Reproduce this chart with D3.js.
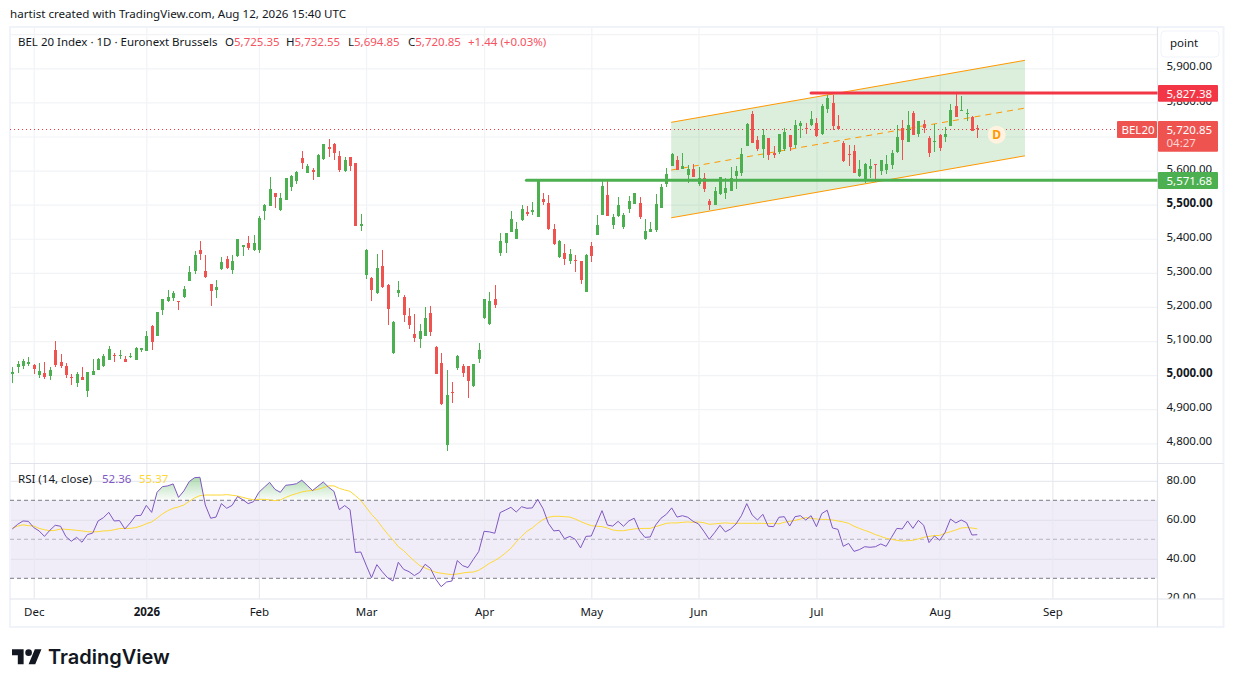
<!DOCTYPE html>
<html>
<head>
<meta charset="utf-8">
<script src="https://cdn.jsdelivr.net/npm/d3@7"></script>
<style>
  html, body { margin: 0; padding: 0; background: #fff; }
  svg { display: block; }
  text { font-family: "Noto Sans", sans-serif; font-size: 11.5px; fill: #131722; }
</style>
</head>
<body>
<div id="chart"></div>
<script>
const opens = [5004,5024,5027,5033,5030,5000,5007,4998,5074,5039,
  5027,4995,4978,4995,4954,5001,5016,5027,5045,5060,
  5057,5048,5054,5045,5074,5071,5145,5115,5192,5218,
  5227,5218,5230,5277,5306,5368,5306,5268,5250,5312,
  5341,5309,5350,5376,5388,5368,5368,5482,5496,5535,
  5485,5514,5552,5570,5637,5593,5602,5582,5634,5670,
  5678,5643,5599,5640,5623,5438,5294,5285,5241,5320,
  5265,5065,5241,5230,5174,5121,5106,5115,5183,5083,
  5036,4795,4951,5021,5027,5027,4968,5048,5168,5150,
  5224,5359,5388,5420,5400,5455,5479,5479,5464,5517,
  5505,5429,5347,5359,5335,5338,5335,5244,5379,5411,
  5470,5529,5441,5467,5435,5488,5502,5505,5400,5420,
  5426,5490,5561,5614,5631,5605,5587,5605,5561,5579,
  5511,5499,5532,5535,5540,5584,5593,5673,5766,5690,
  5664,5696,5652,5655,5664,5705,5676,5731,5725,5734,
  5740,5708,5781,5799,5731,5681,5649,5658,5585,5570,
  5605,5620,5599,5602,5617,5655,5725,5684,5769,5708,
  5737,5696,5684,5705,5699,5731,5790,5775,5766,5758,5725.35];
const highs = [5024,5042,5048,5054,5033,5036,5039,5024,5101,5062,
  5036,5004,5010,5024,5010,5048,5051,5062,5086,5065,
  5074,5057,5065,5083,5080,5130,5148,5186,5224,5250,
  5247,5218,5262,5321,5365,5394,5353,5268,5280,5347,
  5350,5353,5400,5382,5409,5412,5468,5501,5582,5535,
  5535,5579,5587,5599,5658,5620,5608,5649,5678,5693,
  5681,5658,5640,5640,5623,5473,5370,5288,5356,5367,
  5268,5159,5276,5235,5197,5180,5150,5200,5203,5086,
  5065,5015,4980,5059,5033,5027,5033,5095,5224,5244,
  5265,5417,5417,5482,5450,5499,5497,5508,5575,5535,
  5529,5444,5397,5385,5370,5353,5335,5356,5391,5470,
  5573,5576,5473,5523,5476,5526,5535,5523,5458,5450,
  5532,5561,5608,5652,5643,5652,5617,5620,5611,5593,
  5517,5552,5582,5579,5611,5614,5667,5740,5775,5702,
  5722,5696,5673,5708,5725,5705,5749,5746,5740,5775,
  5755,5795,5822,5822,5764,5687,5676,5676,5632,5623,
  5634,5620,5632,5646,5661,5734,5749,5775,5775,5746,
  5749,5702,5737,5708,5728,5796,5827.38,5819,5781,5761,5732.55];
const lows = [4978,5005,5019,5028,5002,4993,4990,4987,5024,5021,
  4993,4971,4964,4986,4937,5001,5016,5024,5045,5039,
  5048,5039,5051,5045,5068,5071,5074,5115,5177,5215,
  5218,5192,5227,5277,5297,5338,5285,5203,5227,5309,
  5312,5297,5347,5350,5368,5365,5359,5455,5496,5490,
  5482,5514,5540,5561,5605,5593,5573,5582,5631,5640,
  5631,5596,5596,5599,5438,5423,5282,5218,5238,5256,
  5147,5062,5230,5156,5136,5098,5080,5115,5115,5004,
  4913,4778,4919,5015,4995,4933,4965,5036,5165,5147,
  5197,5350,5359,5420,5400,5452,5467,5470,5464,5499,
  5426,5382,5344,5323,5326,5303,5268,5244,5332,5411,
  5470,5467,5429,5464,5429,5476,5502,5458,5397,5420,
  5420,5490,5552,5614,5602,5605,5564,5582,5555,5538,
  5485,5499,5529,5517,5540,5546,5584,5673,5681,5658,
  5637,5632,5637,5649,5658,5658,5667,5696,5708,5731,
  5699,5705,5769,5720,5720,5626,5614,5593,5582,5563,
  5579,5567,5588,5590,5605,5652,5632,5684,5705,5699,
  5711,5640,5655,5658,5684,5731,5758,5775,5746,5716,5694.85];
const closes = [5010,5033,5042,5039,5018,5013,4995,5016,5030,5027,
  5001,4992,5004,4986,5010,5013,5048,5057,5077,5057,
  5060,5039,5057,5080,5080,5115,5098,5186,5224,5230,
  5241,5215,5253,5303,5353,5356,5288,5247,5259,5332,
  5315,5335,5400,5382,5373,5388,5462,5499,5546,5523,
  5520,5579,5584,5596,5623,5614,5596,5646,5678,5664,
  5652,5602,5631,5614,5438,5444,5367,5250,5315,5259,
  5194,5156,5250,5177,5147,5109,5130,5168,5127,5004,
  4916,4942,4948,5056,5007,4983,5033,5074,5224,5218,
  5206,5394,5417,5458,5429,5488,5473,5485,5571,5508,
  5429,5385,5394,5341,5356,5335,5279,5353,5350,5441,
  5555,5467,5464,5499,5470,5511,5535,5464,5423,5429,
  5502,5552,5590,5649,5602,5614,5605,5582,5579,5546,
  5499,5540,5582,5549,5579,5599,5649,5737,5681,5664,
  5705,5646,5646,5708,5714,5670,5734,5740,5722,5752,
  5702,5790,5813,5731,5722,5629,5646,5593,5605,5620,
  5614,5617,5632,5620,5652,5699,5690,5734,5705,5746,
  5725,5652,5687,5667,5708,5778,5758,5778,5769,5717,5720.85];

const rsi = [55.3,57.7,59.4,59.2,56.0,54.3,51.5,54.6,57.2,56.7,
  51.4,49.0,51.0,48.5,52.4,53.2,59.4,61.1,63.8,59.4,
  59.6,55.3,58.4,62.1,62.3,67.4,63.8,74.1,77.0,77.4,
  78.4,71.5,74.8,79.6,81.6,81.8,67.6,60.8,61.4,68.3,
  65.9,67.4,71.9,70.3,68.3,69.3,74.1,76.7,79.2,75.6,
  74.1,77.7,78.0,78.5,80.3,77.7,75.0,77.2,79.4,76.7,
  74.6,65.2,67.3,65.2,43.2,43.5,36.8,30.3,37.0,33.4,
  30.3,28.6,38.2,34.6,33.4,31.4,33.1,37.2,35.1,29.5,
  25.7,28.1,28.6,39.1,36.5,35.5,39.7,43.7,54.1,53.8,
  53.1,63.7,65.0,66.4,64.0,66.7,65.9,66.1,70.5,65.7,
  58.2,54.3,54.6,50.3,51.5,50.0,45.6,51.5,51.7,58.2,
  64.7,57.3,56.8,59.2,56.7,59.4,60.8,54.4,51.0,51.2,
  57.3,60.8,62.8,66.1,61.4,62.1,61.3,59.2,57.9,54.1,
  50.0,53.4,57.2,53.8,55.3,57.9,62.1,68.3,62.5,59.9,
  62.8,56.7,56.5,61.3,61.6,56.8,61.6,62.1,59.9,62.1,
  56.5,63.2,64.9,55.8,55.1,46.4,47.9,43.8,44.7,46.2,
  45.9,46.2,47.6,46.4,51.0,55.6,55.3,59.4,55.6,59.7,
  57.2,48.3,51.7,49.5,53.6,60.4,58.4,59.9,58.5,52.2,52.36];
const rsiMa = [55.6,56.8,57.4,57.0,56.8,55.6,54.9,54.4,54.6,55.3,
  55.1,54.9,54.6,54.3,53.9,53.8,53.9,54.3,54.4,54.9,
  55.5,55.6,55.6,56.0,56.8,58.0,58.9,60.9,63.0,64.7,
  65.9,66.6,67.6,69.5,71.2,72.4,72.7,72.7,72.7,72.7,
  72.9,72.6,72.2,71.5,70.8,70.3,70.5,70.5,70.2,69.8,
  70.2,71.5,72.6,73.4,74.3,74.8,75.1,75.6,76.5,77.4,
  77.4,76.1,75.3,74.6,72.4,70.0,66.4,62.8,59.9,56.2,
  52.7,49.7,46.2,44.2,41.4,38.9,36.5,35.3,34.1,33.1,
  32.6,32.2,31.9,32.2,32.7,33.1,33.2,34.1,35.8,37.7,
  39.1,40.8,43.0,45.4,48.6,51.5,54.1,55.8,58.2,60.1,
  61.3,61.8,61.8,61.6,61.4,60.4,59.1,58.0,57.0,56.7,
  56.5,55.8,54.8,54.4,54.4,54.9,55.3,55.5,55.6,55.6,
  56.5,57.3,58.2,58.4,58.4,58.7,58.9,58.7,58.9,58.5,
  57.7,57.9,58.2,58.4,58.2,58.2,58.2,58.2,58.2,58.2,
  58.2,58.0,58.2,57.9,58.7,59.2,59.7,60.4,61.1,60.8,
  60.4,60.2,60.2,59.9,59.4,58.9,58.2,56.7,55.6,54.6,
  53.6,52.4,51.5,50.5,50.0,49.5,49.1,49.3,49.5,50.2,
  51.0,51.5,51.9,52.0,53.1,53.9,54.8,55.8,56.0,55.8,55.37];

const priceTicks = [4800,4900,5000,5100,5200,5300,5400,5500,5600,5700,5800,5900,6000];
const priceLabelTicks = [4800,4900,5000,5100,5200,5300,5400,5500,5600,5800,5900];
const boldPrices = [5000,5500];
const rsiTicks = [20,40,60,80];
const monthBars = [4,25,46,66,88,108,128,150,173,194];
const monthLabels = ["Dec","2026","Feb","Mar","Apr","May","Jun","Jul","Aug","Sep"];

const resistance = 5827.38;
const support = 5571.68;
const resistanceStart = 149;
const supportStart = 95.9;
const channelBars = [122.9,188.9];
const channelTop = [5741.5,5923.4];
const channelBottom = [5461.4,5643.3];

const green = "#4caf50";
const red = "#ef5350";
const lineRed = "#f23645";
const orange = "#ff9800";
const gridColor = "#f2f3f6";
const sepColor = "#e0e3eb";
const baseFont = "'Noto Sans', sans-serif";

const width = 1233;
const height = 687;
const paneLeft = 10;
const paneRight = 1157.5;
const mainTop = 27;
const mainBottom = 463.5;
const rsiBottom = 598.5;
const axisBottomY = 627;
const frameRight = 1223.5;

const svg = d3.select("#chart").append("svg")
    .attr("width", width)
    .attr("height", height)
    .attr("viewBox", [0, 0, width, height]);

const x = d3.scaleLinear([0, 180], [12.3, 12.3 + 180 * 5.361]);
const y = d3.scaleLinear([4800, 5900], [443.3, 68.3]);
const yRsi = d3.scaleLinear([30, 70], [578.3, 500.3]);

const defs = svg.append("defs");
defs.append("clipPath").attr("id", "mainClip").append("rect")
    .attr("x", paneLeft).attr("y", mainTop).attr("width", paneRight - paneLeft).attr("height", mainBottom - mainTop);
defs.append("clipPath").attr("id", "rsiClip").append("rect")
    .attr("x", paneLeft).attr("y", mainBottom).attr("width", paneRight - paneLeft).attr("height", rsiBottom - mainBottom);
defs.append("clipPath").attr("id", "aboveClip").append("rect")
    .attr("x", paneLeft).attr("y", mainBottom).attr("width", paneRight - paneLeft).attr("height", yRsi(70) - mainBottom);
defs.append("clipPath").attr("id", "rsiAxisClip").append("rect")
    .attr("x", 0).attr("y", mainBottom).attr("width", 80).attr("height", rsiBottom - mainBottom);

const grad = defs.append("linearGradient").attr("id", "obFill")
    .attr("gradientUnits", "userSpaceOnUse")
    .attr("x1", 0).attr("x2", 0).attr("y1", yRsi(82)).attr("y2", yRsi(70));
grad.append("stop").attr("offset", "0%").attr("stop-color", green).attr("stop-opacity", 0.45);
grad.append("stop").attr("offset", "100%").attr("stop-color", green).attr("stop-opacity", 0.02);

// caption above the frame
svg.append("text").attr("x", 10).attr("y", 18).style("font-size", "11.6px")
    .text("hartist created with TradingView.com, Aug 12, 2026 15:40 UTC");

// grids, built with the axes
svg.append("g")
    .attr("transform", `translate(${paneLeft},0)`)
    .call(d3.axisRight(y).tickValues(priceTicks).tickSize(paneRight - paneLeft).tickFormat(""))
    .call(g => g.select(".domain").remove())
    .call(g => g.selectAll("line").attr("stroke", gridColor).attr("stroke-width", 1.2));

const bandPane = svg.append("g").attr("clip-path", "url(#rsiClip)");
bandPane.append("rect")
    .attr("x", paneLeft).attr("width", paneRight - paneLeft)
    .attr("y", yRsi(70)).attr("height", yRsi(30) - yRsi(70))
    .attr("fill", "#7e57c2").attr("fill-opacity", 0.11);

svg.append("g")
    .attr("transform", `translate(${paneLeft},0)`)
    .call(d3.axisRight(yRsi).tickValues(rsiTicks.slice(1)).tickSize(paneRight - paneLeft).tickFormat(""))
    .call(g => g.select(".domain").remove())
    .call(g => g.selectAll("line").attr("stroke", "#d9d9e6").attr("stroke-opacity", 0.75).attr("stroke-width", 1));

[mainTop, mainBottom].forEach((top, idx) => {
    const bottom = idx === 0 ? mainBottom : rsiBottom;
    svg.append("g")
        .attr("transform", `translate(0,${top})`)
        .call(d3.axisBottom(x).tickValues(monthBars).tickSize(bottom - top).tickFormat(""))
        .call(g => g.select(".domain").remove())
        .call(g => g.selectAll("line").attr("stroke", idx === 0 ? gridColor : "#e9e9f0").attr("stroke-width", 1.2));
});

// frame and separators
svg.append("rect").attr("x", 10).attr("y", 27).attr("width", frameRight - 10).attr("height", axisBottomY - 27)
    .attr("fill", "none").attr("stroke", "#f0f3fa").attr("stroke-width", 2);
[[paneRight, mainTop, paneRight, axisBottomY],
 [paneLeft, mainBottom, frameRight, mainBottom],
 [paneLeft, rsiBottom + 0.5, frameRight, rsiBottom + 0.5]].forEach(s => {
    svg.append("line").attr("x1", s[0]).attr("y1", s[1]).attr("x2", s[2]).attr("y2", s[3])
        .attr("stroke", sepColor).attr("stroke-width", 1.2);
});

// channel under the candles
const main = svg.append("g").attr("clip-path", "url(#mainClip)");
const channelData = channelBars.map((b, i) => ({
    bar: b, top: channelTop[i], bottom: channelBottom[i], mid: (channelTop[i] + channelBottom[i]) / 2
}));
main.append("path").datum(channelData)
    .attr("d", d3.area().x(d => x(d.bar)).y0(d => y(d.bottom)).y1(d => y(d.top)))
    .attr("fill", green).attr("fill-opacity", 0.2);
[["top", null], ["bottom", null], ["mid", "6 5"]].forEach(([key, dash]) => {
    main.append("path").datum(channelData)
        .attr("d", d3.line().x(d => x(d.bar)).y(d => y(d[key])))
        .attr("fill", "none").attr("stroke", orange).attr("stroke-width", 1)
        .attr("stroke-dasharray", dash);
});

// last price dotted line
main.append("line")
    .attr("x1", paneLeft).attr("x2", paneRight)
    .attr("y1", y(closes[180])).attr("y2", y(closes[180]))
    .attr("shape-rendering", "crispEdges")
    .attr("stroke", lineRed).attr("stroke-width", 1).attr("stroke-dasharray", "1 3");

// candles
const bars = d3.range(opens.length);
const candle = main.append("g").attr("shape-rendering", "crispEdges")
    .selectAll("g").data(bars).enter().append("g")
    .attr("fill", i => closes[i] >= opens[i] ? green : red);
candle.append("rect")
    .attr("x", i => Math.round(x(i)) - 0.5)
    .attr("width", 1)
    .attr("y", i => y(highs[i]))
    .attr("height", i => y(lows[i]) - y(highs[i]));
candle.append("rect")
    .attr("x", i => Math.round(x(i)) - 1.5)
    .attr("width", 3)
    .attr("y", i => y(Math.max(opens[i], closes[i])))
    .attr("height", i => Math.max(1, Math.abs(y(opens[i]) - y(closes[i]))));

// support and resistance
main.append("line").attr("x1", x(supportStart)).attr("x2", paneRight)
    .attr("y1", y(support)).attr("y2", y(support))
    .attr("stroke", green).attr("stroke-width", 3).attr("stroke-linecap", "round");
main.append("line").attr("x1", x(resistanceStart)).attr("x2", paneRight)
    .attr("y1", y(resistance)).attr("y2", y(resistance))
    .attr("stroke", lineRed).attr("stroke-width", 3).attr("stroke-linecap", "round");

// dividend badge
svg.append("circle").attr("cx", 996.7).attr("cy", 134.7).attr("r", 9).attr("fill", "#fff3e0");
svg.append("text").attr("x", 996.7).attr("y", 139).attr("text-anchor", "middle")
    .style("font-size", "12px").style("font-weight", 700).style("fill", orange).text("D");

// rsi
const rsiLine = d3.line().x(i => x(i)).y(i => yRsi(rsi[i]));
const maLine = d3.line().x(i => x(i)).y(i => yRsi(rsiMa[i]));
const rsiPane = svg.append("g").attr("clip-path", "url(#rsiClip)");
rsiPane.append("path").datum(bars)
    .attr("clip-path", "url(#aboveClip)")
    .attr("d", d3.area().x(i => x(i)).y0(yRsi(70)).y1(i => yRsi(rsi[i])))
    .attr("fill", "url(#obFill)");
[[70, 1], [50, 0.5], [30, 1]].forEach(([v, o]) => {
    rsiPane.append("line").attr("x1", paneLeft).attr("x2", paneRight)
        .attr("y1", yRsi(v)).attr("y2", yRsi(v))
        .attr("stroke", "#787b86").attr("stroke-opacity", o).attr("stroke-width", 1).attr("stroke-dasharray", "4 3");
});
rsiPane.append("path").datum(bars).attr("d", maLine)
    .attr("fill", "none").attr("stroke", "#fdd835").attr("stroke-width", 1);
rsiPane.append("path").datum(bars).attr("d", rsiLine)
    .attr("fill", "none").attr("stroke", "#7e57c2").attr("stroke-width", 1);

// axes labels
const fmt = d3.format(",.2f");
svg.append("g")
    .attr("transform", `translate(${paneRight},0)`)
    .call(d3.axisRight(y).tickValues(priceLabelTicks).tickSize(0).tickPadding(9).tickFormat(fmt))
    .call(g => g.select(".domain").remove())
    .call(g => g.selectAll("text")
        .attr("y", -2)
        .style("font-size", "11.5px")
        .style("font-family", baseFont)
        .style("font-weight", d => boldPrices.includes(d) ? 700 : 400)
        .style("fill", "#131722"));
svg.append("g")
    .attr("transform", `translate(${paneRight},0)`)
    .attr("clip-path", "url(#rsiAxisClip)")
    .call(d3.axisRight(yRsi).tickValues(rsiTicks).tickSize(0).tickPadding(9).tickFormat(fmt))
    .call(g => g.select(".domain").remove())
    .call(g => g.selectAll("text")
        .attr("y", -1)
        .style("font-size", "11.5px")
        .style("font-family", baseFont)
        .style("fill", "#131722"));

svg.append("g")
    .attr("transform", `translate(0,${rsiBottom})`)
    .call(d3.axisBottom(x).tickValues(monthBars).tickSize(0).tickPadding(9)
        .tickFormat((d, i) => monthLabels[i]))
    .call(g => g.select(".domain").remove())
    .call(g => g.selectAll("text")
        .style("font-size", "11.5px")
        .style("font-family", baseFont)
        .style("font-weight", (d, i) => monthLabels[i] === "2026" ? 700 : 400)
        .style("fill", "#131722"));

// point button
svg.append("rect").attr("x", 1161).attr("y", 31).attr("width", 58).attr("height", 26).attr("rx", 4)
    .attr("fill", "#fff").attr("stroke", "#f0f3fa").attr("stroke-width", 1);
svg.append("text").attr("x", 1170).attr("y", 47).text("point");

// price tags
const tag = (x0, y0, w, h, color, lines) => {
    svg.append("rect").attr("x", x0).attr("y", y0).attr("width", w).attr("height", h).attr("rx", 1).attr("fill", color);
    lines.forEach(l => {
        svg.append("text").attr("x", x0 + l.dx).attr("y", y0 + l.dy).style("fill", l.fill || "#fff").text(l.text);
    });
};
tag(1158, 85, 60, 16.7, lineRed, [{ dx: 8.5, dy: 12.6, text: fmt(resistance) }]);
tag(1158, 121, 60, 30.7, red, [
    { dx: 8.5, dy: 12.6, text: fmt(closes[180]) },
    { dx: 8.5, dy: 26, text: "04:27", fill: "rgba(255,255,255,0.75)" }
]);
tag(1117, 121, 40, 17, red, [{ dx: 4.5, dy: 12.6, text: "BEL20" }]);
tag(1158, 172, 60, 17, green, [{ dx: 8.5, dy: 12.6, text: fmt(support) }]);

// legends
const legendRed = "#f7525f";
svg.append("text").attr("x", 18).attr("y", 46).text("BEL 20 Index · 1D · Euronext Brussels");
[["O", 225, opens[180]], ["H", 286, highs[180]], ["L", 348, lows[180]], ["C", 408, closes[180]]].forEach(([k, px, v]) => {
    const t = svg.append("text").attr("x", px).attr("y", 46);
    t.append("tspan").text(k);
    t.append("tspan").style("fill", legendRed).text(fmt(v));
});
svg.append("text").attr("x", 468).attr("y", 46).style("fill", legendRed).text("+1.44 (+0.03%)");

svg.append("text").attr("x", 18).attr("y", 483).text("RSI (14, close)");
svg.append("text").attr("x", 102).attr("y", 483).style("fill", "#7e57c2").text(fmt(rsi[180]));
svg.append("text").attr("x", 139).attr("y", 483).style("fill", "#fdd835").text(fmt(rsiMa[180]));

// brand
svg.append("path")
    .attr("transform", "translate(12,646) scale(0.83)")
    .attr("fill", "#131722")
    .attr("d", "M14 22H7V11H0V4h14v18zM28 22h-8l7.5-18h8L28 22z");
svg.append("circle")
    .attr("transform", "translate(12,646) scale(0.83)")
    .attr("cx", 20).attr("cy", 8).attr("r", 4).attr("fill", "#131722");
svg.append("text").attr("x", 48).attr("y", 664)
    .style("font-family", "Inter, sans-serif").style("font-size", "20px").style("font-weight", 600)
    .text("TradingView");
</script>
</body>
</html>
